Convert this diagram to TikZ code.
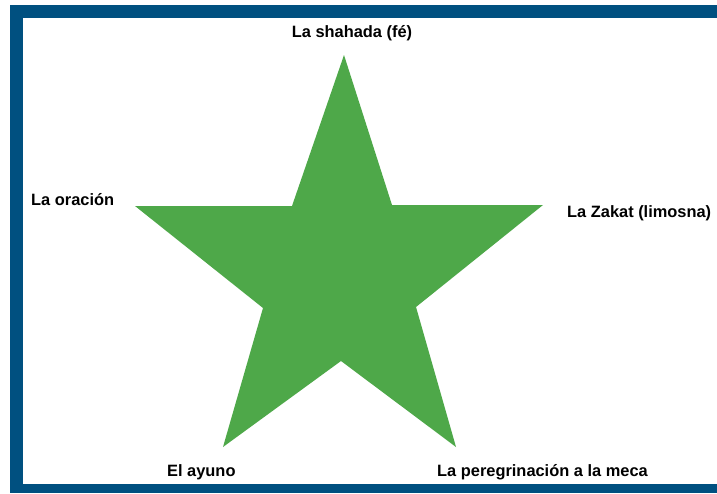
\documentclass[tikz,border=0pt]{standalone}
\usepackage{fontspec}
\setmainfont{Liberation Sans}
\definecolor{marco}{RGB}{0,80,128}
\definecolor{verde}{RGB}{78,168,73}

\begin{document}
\begin{tikzpicture}[
  x=1pt, y=-1pt,
  pilar/.style={font=\bfseries\fontsize{16.4}{18}\selectfont, inner sep=0pt}]
\useasboundingbox (0,0) rectangle (717,493);
% marco
\fill[marco] (10,5) rectangle (717,493);
\fill[white] (23,18) rectangle (717,484);
% estrella
\fill[verde] (344,55) -- (392,205) -- (543,205) -- (416,307) -- (456,447)
  -- (341,361) -- (223,447) -- (263,308) -- (135,206) -- (292,206) -- cycle;
% pilares
\node[pilar, anchor=base] (fe) at (352,37) {La shahada (fé)};
\node[pilar, anchor=base west] (or) at (31,205) {La oración};
\node[pilar, anchor=base west] (za) at (567,217) {La Zakat (limosna)};
\node[pilar, anchor=base west] (ay) at (167,476) {El ayuno};
\node[pilar, anchor=base west] (pe) at (437,476) {La peregrinación a la meca};
\end{tikzpicture}
\end{document}
